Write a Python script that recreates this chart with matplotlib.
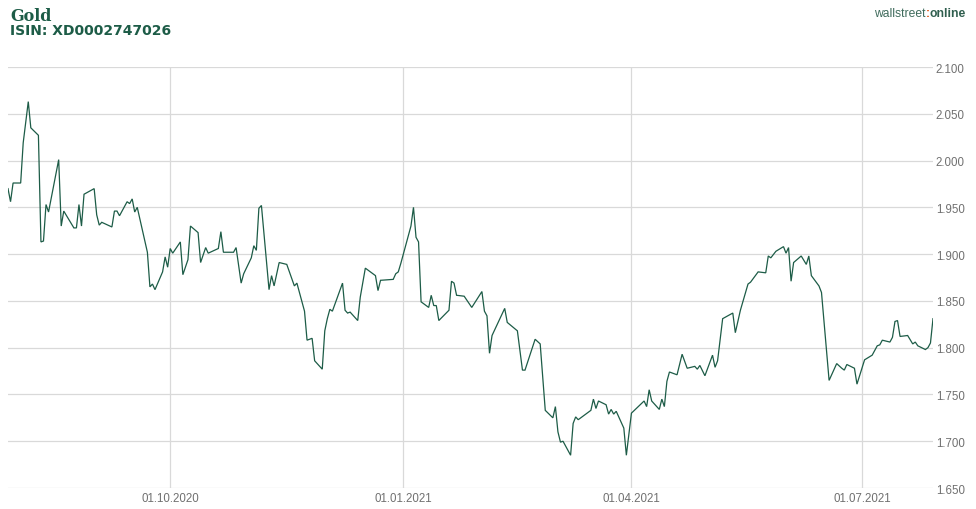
import matplotlib
matplotlib.use("Agg")
import matplotlib.pyplot as plt
import matplotlib.dates as mdates
from matplotlib.ticker import FixedLocator, FuncFormatter
import pandas as pd

# gold price (USD)
DATES = [
    "2020-07-29", "2020-07-30", "2020-07-31", "2020-08-03", "2020-08-04", "2020-08-06",
    "2020-08-07", "2020-08-10", "2020-08-11", "2020-08-12", "2020-08-13", "2020-08-14",
    "2020-08-18", "2020-08-19", "2020-08-20", "2020-08-24", "2020-08-25", "2020-08-26",
    "2020-08-27", "2020-08-28", "2020-09-01", "2020-09-02", "2020-09-03", "2020-09-04",
    "2020-09-08", "2020-09-09", "2020-09-10", "2020-09-11", "2020-09-14", "2020-09-15",
    "2020-09-16", "2020-09-17", "2020-09-18", "2020-09-22", "2020-09-23", "2020-09-24",
    "2020-09-25", "2020-09-28", "2020-09-29", "2020-09-30", "2020-10-01", "2020-10-02",
    "2020-10-05", "2020-10-06", "2020-10-08", "2020-10-09", "2020-10-12", "2020-10-13",
    "2020-10-15", "2020-10-16", "2020-10-20", "2020-10-21", "2020-10-22", "2020-10-26",
    "2020-10-27", "2020-10-29", "2020-10-30", "2020-11-02", "2020-11-03", "2020-11-04",
    "2020-11-05", "2020-11-06", "2020-11-09", "2020-11-10", "2020-11-11", "2020-11-13",
    "2020-11-16", "2020-11-19", "2020-11-20", "2020-11-23", "2020-11-24", "2020-11-26",
    "2020-11-27", "2020-11-30", "2020-12-01", "2020-12-02", "2020-12-03", "2020-12-04",
    "2020-12-08", "2020-12-09", "2020-12-10", "2020-12-11", "2020-12-14", "2020-12-15",
    "2020-12-17", "2020-12-21", "2020-12-22", "2020-12-23", "2020-12-28", "2020-12-29",
    "2020-12-30", "2020-12-31", "2021-01-04", "2021-01-05", "2021-01-06", "2021-01-07",
    "2021-01-08", "2021-01-11", "2021-01-12", "2021-01-13", "2021-01-14", "2021-01-15",
    "2021-01-19", "2021-01-20", "2021-01-21", "2021-01-22", "2021-01-25", "2021-01-28",
    "2021-02-01", "2021-02-02", "2021-02-03", "2021-02-04", "2021-02-05", "2021-02-10",
    "2021-02-11", "2021-02-15", "2021-02-17", "2021-02-18", "2021-02-22", "2021-02-24",
    "2021-02-26", "2021-03-01", "2021-03-02", "2021-03-03", "2021-03-04", "2021-03-05",
    "2021-03-08", "2021-03-09", "2021-03-10", "2021-03-11", "2021-03-12", "2021-03-16",
    "2021-03-17", "2021-03-18", "2021-03-19", "2021-03-22", "2021-03-23", "2021-03-24",
    "2021-03-25", "2021-03-26", "2021-03-29", "2021-03-30", "2021-04-01", "2021-04-06",
    "2021-04-07", "2021-04-08", "2021-04-09", "2021-04-12", "2021-04-13", "2021-04-14",
    "2021-04-15", "2021-04-16", "2021-04-19", "2021-04-21", "2021-04-23", "2021-04-26",
    "2021-04-27", "2021-04-28", "2021-04-30", "2021-05-03", "2021-05-04", "2021-05-05",
    "2021-05-07", "2021-05-11", "2021-05-12", "2021-05-14", "2021-05-17", "2021-05-18",
    "2021-05-21", "2021-05-24", "2021-05-25", "2021-05-26", "2021-05-28", "2021-05-31",
    "2021-06-01", "2021-06-02", "2021-06-03", "2021-06-04", "2021-06-07", "2021-06-09",
    "2021-06-10", "2021-06-11", "2021-06-14", "2021-06-15", "2021-06-18", "2021-06-21",
    "2021-06-23", "2021-06-24", "2021-06-25", "2021-06-28", "2021-06-29", "2021-07-02",
    "2021-07-05", "2021-07-07", "2021-07-08", "2021-07-09", "2021-07-12", "2021-07-13",
    "2021-07-14", "2021-07-15", "2021-07-16", "2021-07-19", "2021-07-21", "2021-07-22",
    "2021-07-23", "2021-07-26", "2021-07-27", "2021-07-28", "2021-07-29",
]
PRICES = [
    1970, 1956, 1976, 1976, 2019, 2063,
    2035, 2027, 1913, 1914, 1953, 1945,
    2001, 1930, 1946, 1928, 1928, 1953,
    1930, 1964, 1970, 1942, 1931, 1934,
    1929, 1946, 1946, 1941, 1956, 1954,
    1959, 1945, 1950, 1902, 1865, 1868,
    1862, 1881, 1897, 1886, 1906, 1901,
    1913, 1878, 1894, 1930, 1923, 1891,
    1907, 1901, 1906, 1924, 1902, 1902,
    1907, 1869, 1879, 1896, 1909, 1904,
    1949, 1952, 1862, 1877, 1866, 1891,
    1889, 1866, 1869, 1839, 1808, 1810,
    1786, 1777, 1818, 1831, 1841, 1839,
    1869, 1840, 1837, 1838, 1829, 1854,
    1885, 1877, 1861, 1872, 1873, 1879,
    1881, 1890, 1930, 1950, 1918, 1913,
    1849, 1843, 1856, 1845, 1845, 1829,
    1840, 1871, 1869, 1856, 1855, 1843,
    1860, 1839, 1834, 1794, 1813, 1842,
    1827, 1818, 1776, 1776, 1809, 1804,
    1733, 1725, 1737, 1710, 1699, 1700,
    1685, 1719, 1726, 1723, 1725, 1733,
    1745, 1735, 1743, 1739, 1729, 1734,
    1729, 1732, 1714, 1685, 1730, 1743,
    1737, 1755, 1743, 1734, 1745, 1737,
    1764, 1774, 1771, 1793, 1778, 1780,
    1777, 1781, 1770, 1792, 1779, 1786,
    1831, 1837, 1816, 1840, 1868, 1870,
    1881, 1880, 1898, 1896, 1903, 1908,
    1901, 1907, 1871, 1891, 1898, 1889,
    1898, 1877, 1866, 1859, 1765, 1783,
    1778, 1776, 1782, 1778, 1761, 1787,
    1792, 1802, 1803, 1808, 1806, 1811,
    1828, 1829, 1812, 1813, 1804, 1806,
    1802, 1798, 1800, 1805, 1831,
]
X_TICKS = ["2020-10-01", "2021-01-01", "2021-04-01", "2021-07-01"]
Y_TICKS = [1650, 1700, 1750, 1800, 1850, 1900, 1950, 2000, 2050, 2100]

GREEN = "#1d5c47"
GRID = "#d9d9d9"
LABEL = "#707070"

dates = pd.to_datetime(DATES)

fig = plt.figure(figsize=(9.76, 5.10), dpi=100)
ax = fig.add_axes([8 / 976, 21 / 510, (933 - 8) / 976, (489 - 68) / 510])

ax.plot(dates, PRICES, color=GREEN, lw=0.9, solid_joinstyle="miter")

ax.set_xlim(dates[0], dates[-1])
ax.set_ylim(Y_TICKS[0], Y_TICKS[-1])

ax.xaxis.set_major_locator(FixedLocator(mdates.date2num(pd.to_datetime(X_TICKS))))
ax.xaxis.set_major_formatter(mdates.DateFormatter("%d.%m.%Y"))
ax.yaxis.set_major_locator(FixedLocator(Y_TICKS))
ax.yaxis.set_major_formatter(FuncFormatter(lambda v, _: f"{int(v):,}".replace(",", ".")))
ax.yaxis.tick_right()

ax.grid(True, color=GRID, lw=0.9)
ax.set_axisbelow(True)
for s in ax.spines.values():
    s.set_visible(False)
ax.tick_params(length=0, labelsize=8.3, labelcolor=LABEL)
ax.tick_params(axis="x", pad=3)
ax.tick_params(axis="y", pad=2)
for lbl in ax.get_xticklabels() + ax.get_yticklabels():
    lbl.set_fontfamily("Liberation Sans")

# header
fig.text(10 / 976, 1 - 21 / 510, "Gold", fontsize=11.5, fontweight="bold",
         family="DejaVu Serif", color=GREEN)
fig.text(10 / 976, 1 - 35 / 510, "ISIN: XD0002747026", fontsize=10, fontweight="bold",
         family="DejaVu Sans", color=GREEN)

# brand, right aligned: wallstreet:online
renderer = fig.canvas.get_renderer()
parts = [("wallstreet", "normal", "#3f6b5c"), (":", "bold", "#e05a1c"), ("online", "bold", "#2f5e4e")]
texts = []
for s, w, c in parts:
    texts.append(fig.text(0, 1 - 17 / 510, s, fontsize=8.7, fontweight=w,
                          family="Liberation Sans", color=c))
widths = [t.get_window_extent(renderer).width for t in texts]
x = 966 - sum(widths)
for t, w in zip(texts, widths):
    t.set_x(x / 976)
    x += w

fig.savefig("out.png", dpi=100)
